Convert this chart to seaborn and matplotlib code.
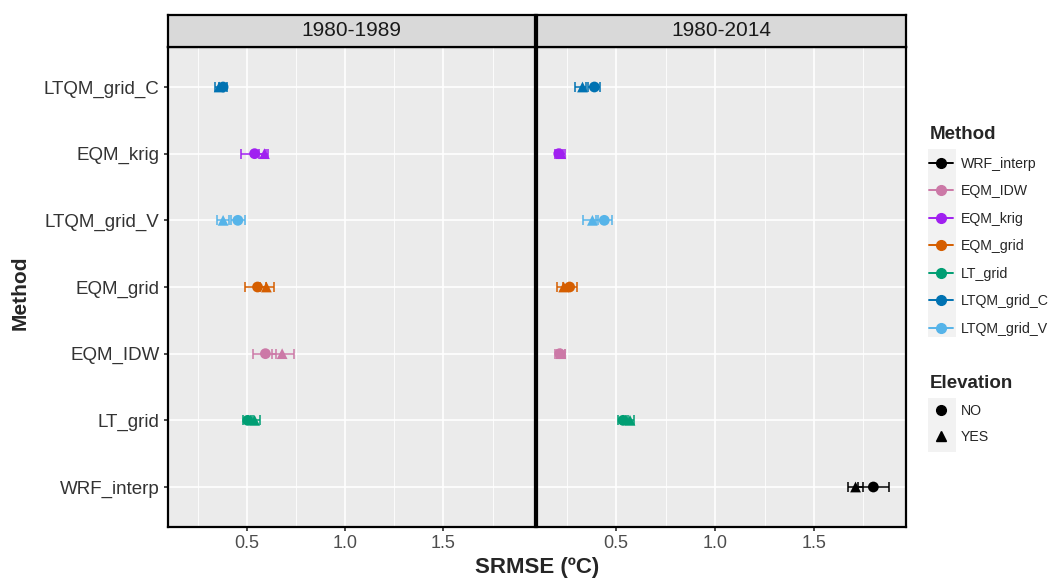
import matplotlib
matplotlib.use("Agg")
import matplotlib.pyplot as plt
from matplotlib.lines import Line2D
from matplotlib.patches import Rectangle
import seaborn as sns
import pandas as pd
import numpy as np

sns.set_theme(style="darkgrid")
plt.rcParams['font.family'] = ['Liberation Sans', 'DejaVu Sans']

periods = ["1980-1989", "1980-2014"]
order = ["LTQM_grid_C", "EQM_krig", "LTQM_grid_V", "EQM_grid", "EQM_IDW", "LT_grid", "WRF_interp"]
legend_methods = ["WRF_interp", "EQM_IDW", "EQM_krig", "EQM_grid", "LT_grid", "LTQM_grid_C", "LTQM_grid_V"]
method_colors = ["#000000", "#CC79A7", "#A020F0", "#D55E00", "#009E73", "#0072B2", "#56B4E9"]
elev_levels = ["NO", "YES"]

row_period = ["1980-1989"] * 12 + ["1980-2014"] * 14
row_method = ["LTQM_grid_C", "LTQM_grid_C", "EQM_krig", "EQM_krig", "LTQM_grid_V", "LTQM_grid_V",
              "EQM_grid", "EQM_grid", "EQM_IDW", "EQM_IDW", "LT_grid", "LT_grid",
              "LTQM_grid_C", "LTQM_grid_C", "EQM_krig", "EQM_krig", "LTQM_grid_V", "LTQM_grid_V",
              "EQM_grid", "EQM_grid", "EQM_IDW", "EQM_IDW", "LT_grid", "LT_grid",
              "WRF_interp", "WRF_interp"]
row_elev = ["NO", "YES"] * 13
srmse = [0.38, 0.36, 0.54, 0.59, 0.455, 0.38, 0.555, 0.60, 0.595, 0.68, 0.505, 0.54,
         0.39, 0.33, 0.21, 0.22, 0.44, 0.38, 0.265, 0.235, 0.215, 0.22, 0.535, 0.57,
         1.80, 1.71]
srmse_lo = [0.36, 0.34, 0.47, 0.56, 0.42, 0.35, 0.49, 0.57, 0.53, 0.63, 0.48, 0.52,
            0.36, 0.29, 0.19, 0.20, 0.40, 0.33, 0.23, 0.20, 0.19, 0.20, 0.51, 0.55,
            1.72, 1.67]
srmse_hi = [0.40, 0.38, 0.60, 0.61, 0.49, 0.41, 0.60, 0.64, 0.65, 0.74, 0.53, 0.565,
            0.42, 0.35, 0.23, 0.24, 0.48, 0.41, 0.30, 0.26, 0.24, 0.24, 0.56, 0.59,
            1.88, 1.75]

df = pd.DataFrame({"Period": row_period, "Method": row_method, "Elevation": row_elev,
                   "SRMSE": srmse, "lo": srmse_lo, "hi": srmse_hi})
df["ypos"] = df["Method"].map({m: i for i, m in enumerate(order)})

palette = dict(zip(legend_methods, method_colors))
markers = {"NO": "o", "YES": "^"}

fig = plt.figure(figsize=(10.6, 5.82), dpi=100)
W, H = 1060, 582
panel_x = [(168, 535), (537, 906)]
top, bottom = 47, 527
strip_top = 15

for k, per in enumerate(periods):
    x0, x1 = panel_x[k]
    ax = fig.add_axes([x0 / W, 1 - bottom / H, (x1 - x0) / W, (bottom - top) / H])
    ax.set_facecolor("#EBEBEB")
    sub = df[df["Period"] == per]
    for _, r in sub.iterrows():
        ax.errorbar(r["SRMSE"], r["ypos"],
                    xerr=[[r["SRMSE"] - r["lo"]], [r["hi"] - r["SRMSE"]]],
                    fmt="none", ecolor=palette[r["Method"]], elinewidth=1.1,
                    capsize=3.5, capthick=1.1, zorder=3)
    sns.scatterplot(data=sub, x="SRMSE", y="ypos", hue="Method", style="Elevation",
                    palette=palette, markers=markers, s=60, linewidth=0,
                    legend=False, ax=ax, zorder=4)
    ax.set_xlim(0.1, 1.965)
    ax.set_ylim(6.6, -0.6)
    ax.set_xticks([0.5, 1.0, 1.5])
    ax.set_xticks([0.25, 0.75, 1.25, 1.75], minor=True)
    ax.set_xticklabels(["0.5", "1.0", "1.5"])
    ax.set_yticks(range(len(order)))
    ax.grid(which="major", color="white", linewidth=1.2)
    ax.grid(which="minor", axis="x", color="white", linewidth=0.6)
    ax.set_xlabel("")
    ax.set_ylabel("")
    ax.tick_params(axis="x", which="major", labelsize=13, labelcolor="#4D4D4D",
                   length=3, color="#333333", pad=3, bottom=True)
    ax.tick_params(axis="x", which="minor", length=0)
    if k == 0:
        ax.set_yticklabels(order)
        ax.tick_params(axis="y", labelsize=13.5, labelcolor="#333333", length=3,
                       color="#333333", pad=3, left=True)
    else:
        ax.set_yticklabels([])
        ax.tick_params(axis="y", length=0)
    for sp in ax.spines.values():
        sp.set_visible(True)
        sp.set_color("black")
        sp.set_linewidth(1.6)
    sax = fig.add_axes([x0 / W, 1 - top / H, (x1 - x0) / W, (top - strip_top) / H])
    sax.set_facecolor("#D9D9D9")
    sax.set_xticks([])
    sax.set_yticks([])
    for sp in sax.spines.values():
        sp.set_visible(True)
        sp.set_color("black")
        sp.set_linewidth(1.6)
    sax.text(0.5, 0.5, per, ha="center", va="center", fontsize=15,
             color="#1A1A1A", transform=sax.transAxes)

fig.text(20 / W, 1 - 293 / H, "Method", rotation=90, ha="center", va="center",
         fontsize=15, fontweight="bold")
fig.text(537 / W, 1 - 568 / H, "SRMSE (ºC)", ha="center", va="center",
         fontsize=16, fontweight="bold")

# legend key backgrounds
fig.patches.append(Rectangle((928 / W, 1 - 337 / H), 28 / W, 188 / H,
                             transform=fig.transFigure, facecolor="#F2F2F2",
                             edgecolor="none", zorder=0))
fig.patches.append(Rectangle((928 / W, 1 - 452 / H), 28 / W, 54 / H,
                             transform=fig.transFigure, facecolor="#F2F2F2",
                             edgecolor="none", zorder=0))

m_handles = [Line2D([0], [0], color=c, marker="o", markersize=7, linewidth=1.4)
             for c in method_colors]
leg1 = fig.legend(m_handles, legend_methods, title="Method", loc="upper left",
                  bbox_to_anchor=(918 / W, 1 - 115 / H), frameon=False,
                  fontsize=10.2, title_fontsize=13.5, handlelength=1.7,
                  labelspacing=0.95, handletextpad=0.55, alignment="left",
                  borderpad=0.3)
leg1.get_title().set_fontweight("bold")
e_handles = [Line2D([0], [0], color="black", marker=markers[e], markersize=7,
                    linewidth=0) for e in elev_levels]
leg2 = fig.legend(e_handles, elev_levels, title="Elevation", loc="upper left",
                  bbox_to_anchor=(918 / W, 1 - 364 / H), frameon=False,
                  fontsize=10.2, title_fontsize=13.5, handlelength=1.7,
                  labelspacing=0.85, handletextpad=0.55, alignment="left",
                  borderpad=0.3)
leg2.get_title().set_fontweight("bold")

fig.savefig("out.png", dpi=100)
